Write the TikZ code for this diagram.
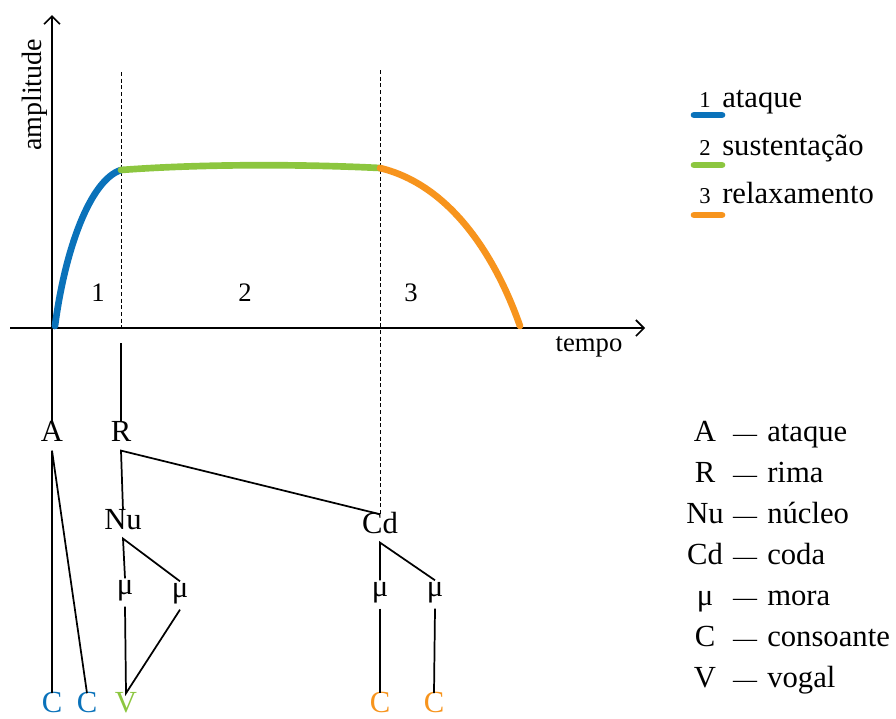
\documentclass[tikz,border=0pt]{standalone}
\usepackage{fontspec}
\setmainfont{Liberation Serif}
\usetikzlibrary{arrows.meta}
\definecolor{ataqueblue}{HTML}{0A72BA}
\definecolor{sustgreen}{HTML}{8CC63F}
\definecolor{relaxorange}{HTML}{F7941D}

\begin{document}
\begin{tikzpicture}[x=0.75pt,y=-0.75pt,
		font=\fontsize{23}{27}\selectfont,
		axis/.style={line width=1.2pt,-{Straight Barb[length=6pt,width=12pt]}},
		guide/.style={line width=0.6pt,dash pattern=on 3pt off 2pt},
		phase/.style={line width=5pt,line cap=round},
		branch/.style={line width=1.3pt},
		chartlabel/.style={font=\fontsize{20}{24}\selectfont},
		unit/.style={anchor=base,inner xsep=1pt,inner ysep=7pt,text height=1.5ex,text depth=0pt},
		mora/.style={unit,text height=1ex,text depth=0.5ex}]
	\useasboundingbox (0,0) rectangle (896,718);
	% tree nodes
	\node[unit] (A) at (52,441) {A};
	\node[unit] (R) at (121,441) {R};
	\node[unit] (Nu) at (123,529) {Nu};
	\node[unit] (Cd) at (380,533) {Cd};
	\node[mora] (mu1) at (125,594) {μ};
	\node[mora] (mu2) at (180,597) {μ};
	\node[mora] (mu3) at (380,596) {μ};
	\node[mora] (mu4) at (435,596) {μ};
	\node[unit,text=ataqueblue] (c1) at (52,712) {C};
	\node[unit,text=ataqueblue] (c2) at (87,712) {C};
	\node[unit,text=sustgreen] (v1) at (126,712) {V};
	\node[unit,text=relaxorange] (c3) at (380,712) {C};
	\node[unit,text=relaxorange] (c4) at (434,712) {C};
	% axes
	\coordinate (ytip) at (52,15);
	\coordinate (xstart) at (10,328);
	\coordinate (xtip) at (645,328);
	\draw[axis] (A.north) -- (ytip);
	\draw[axis] (xstart) -- (xtip);
	\node[rotate=90,font=\fontsize{21}{25}\selectfont] (ylab) at (35,95) {amplitude};
	\node[chartlabel] (xlab) at (589,347) {tempo};
	% phase boundaries
	\coordinate (t1) at (121,72);
	\coordinate (a1) at (121,328);
	\coordinate (b1) at (121,343);
	\coordinate (t3) at (380,70);
	\draw[guide] (t1) -- (a1);
	\draw[branch] (b1) -- (R.north);
	\draw[guide] (t3) -- (Cd.north);
	\node[chartlabel] (n1) at (98,293) {1};
	\node[chartlabel] (n2) at (245,293) {2};
	\node[chartlabel] (n3) at (411,293) {3};
	% envelope
	\draw[phase,ataqueblue] (55,326) .. controls (65,250) and (90,180) .. (121,170);
	\draw[phase,sustgreen] (121,170) .. controls (200,164) and (300,164) .. (380,168);
	\draw[phase,relaxorange] (380,168) .. controls (450,185) and (495,255) .. (520,326);
	% syllable tree
	\draw[branch] (c1.north) -- (A.south) -- (c2.north);
	\draw[branch] (Nu.north) -- (R.south) -- (Cd.north);
	\draw[branch] (mu1.north) -- (Nu.south) -- (mu2.north);
	\draw[branch] (mu3.north) -- (Cd.south) -- (mu4.north);
	\draw[branch] (mu1.south) -- (v1.north) -- (mu2.south);
	\draw[branch] (mu3.south) -- (c3.north);
	\draw[branch] (mu4.south) -- (c4.north);
	% legend of phases
	\draw[phase,ataqueblue] (694,115) -- (722,115);
	\draw[phase,sustgreen] (694,165) -- (722,165);
	\draw[phase,relaxorange] (694,215) -- (722,215);
	\foreach \num/\word/\y in {1/ataque/107, 2/sustentação/155, 3/relaxamento/203}{
		\node[anchor=base,font=\fontsize{17}{20}\selectfont] (k\num) at (705,\y) {\num};
		\node[anchor=base west,inner sep=0pt] (l\num) at (722,\y) {\word};
	}
	% legend of units
	\foreach \sym/\word/\y [count=\i] in {A/ataque/441, R/rima/482, Nu/núcleo/523, Cd/coda/564, μ/mora/605, C/consoante/646, V/vogal/687}{
		\node[anchor=base] (s\i) at (705,\y) {\sym};
		\node[anchor=base,font=\fontsize{18}{20}\selectfont] (d\i) at (745,\y) {—};
		\node[anchor=base west,inner sep=0pt] (w\i) at (767,\y) {\word};
	}
\end{tikzpicture}
\end{document}
